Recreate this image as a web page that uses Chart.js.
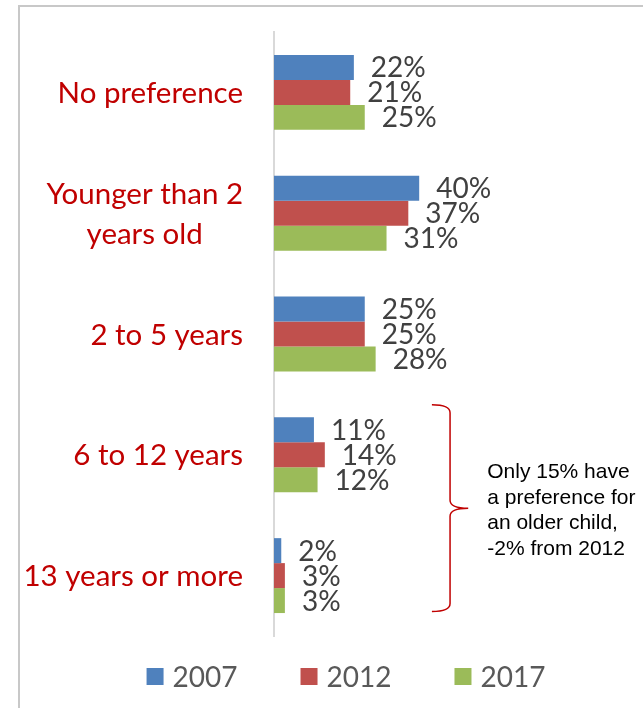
<!DOCTYPE html>
<html>
<head>
<meta charset="utf-8">
<script src="https://cdn.jsdelivr.net/npm/chart.js@4/dist/chart.umd.min.js"></script>
<style>
	body { margin: 0; background: #fff; }
	#wrap { width: 643px; height: 708px; }
</style>
</head>
<body>
<div id="wrap"><canvas id="prefChart" width="643" height="708"></canvas></div>
<script>
// data
var categories = ['No preference', ['Younger than 2', 'years old'], '2 to 5 years', '6 to 12 years', '13 years or more'];
var years = ['2007', '2012', '2017'];
var values2007 = [22, 40, 25, 11, 2];
var values2012 = [21, 37, 25, 14, 3];
var values2017 = [25, 31, 28, 12, 3];
var colors = ['#4F81BD', '#C0504D', '#9BBB59'];
var noteLines = ['Only 15% have', 'a preference for', 'an older child,', '-2% from 2012'];

var FONT = 'Lato, "Open Sans", sans-serif';

var extras = {
	id: 'extras',
	beforeDraw: function(chart) {
		var ctx = chart.ctx;
		ctx.save();
		ctx.strokeStyle = '#c8c8c8';
		ctx.lineWidth = 2;
		ctx.beginPath();
		ctx.moveTo(19, 708);
		ctx.lineTo(19, 6);
		ctx.lineTo(643, 6);
		ctx.stroke();
		ctx.restore();
	},
	afterDatasetsDraw: function(chart) {
		var ctx = chart.ctx;
		var xs = chart.scales.x, ys = chart.scales.y;
		ctx.save();

		// value labels next to each bar
		ctx.font = '28px ' + FONT;
		ctx.fillStyle = '#404040';
		ctx.textAlign = 'left';
		ctx.textBaseline = 'middle';
		chart.data.datasets.forEach(function(ds, i) {
			chart.getDatasetMeta(i).data.forEach(function(bar, j) {
				ctx.fillText(ds.data[j] + '%', bar.x + 17, bar.y + 1);
			});
		});

		// category labels (right aligned, lines centred in their block)
		ctx.font = '29.5px ' + FONT;
		ctx.fillStyle = '#C00000';
		ctx.textAlign = 'center';
		categories.forEach(function(cat, i) {
			var lines = Array.isArray(cat) ? cat : [cat];
			var w = Math.max.apply(null, lines.map(function(l) { return ctx.measureText(l).width; }));
			var cx = xs.left - 31 - w / 2;
			var y0 = ys.getPixelForValue(i) - (lines.length - 1) * 20;
			lines.forEach(function(l, k) {
				ctx.fillText(l, cx, y0 + k * 40 + 1);
			});
		});

		// legend
		ctx.font = '28px ' + FONT;
		ctx.textAlign = 'left';
		ctx.fillStyle = '#595959';
		var widths = years.map(function(y) { return 17 + 9 + ctx.measureText(y).width; });
		var total = widths.reduce(function(a, b) { return a + b; }, 0) + 63 * (years.length - 1);
		var lx = 346 - total / 2;
		var ly = 677;
		years.forEach(function(y, i) {
			ctx.fillStyle = colors[i];
			ctx.fillRect(lx, ly - 9, 17, 17);
			ctx.fillStyle = '#595959';
			ctx.fillText(y, lx + 26, ly + 1);
			lx += widths[i] + 63;
		});

		// bracket around the two older groups
		var top = ys.getPixelForValue(3) - 50;
		var bot = ys.getPixelForValue(4) + 36;
		var mid = (top + bot) / 2;
		var bx = xs.getPixelForValue(48.5);
		var hx = xs.getPixelForValue(43.5);
		var tx = xs.getPixelForValue(53.5);
		ctx.strokeStyle = '#C00000';
		ctx.lineWidth = 1.5;
		ctx.beginPath();
		ctx.moveTo(hx, top);
		ctx.quadraticCurveTo(bx, top, bx, top + 8);
		ctx.lineTo(bx, mid - 8);
		ctx.quadraticCurveTo(bx, mid, tx, mid);
		ctx.quadraticCurveTo(bx, mid, bx, mid + 8);
		ctx.lineTo(bx, bot - 8);
		ctx.quadraticCurveTo(bx, bot, hx, bot);
		ctx.stroke();

		// note text
		ctx.font = '21px "Liberation Sans", Arial, sans-serif';
		ctx.fillStyle = '#000';
		ctx.textBaseline = 'alphabetic';
		noteLines.forEach(function(l, k) {
			ctx.fillText(l, tx + 19, mid - 30 + k * 25.5);
		});

		ctx.restore();
	}
};

var ctx1 = document.getElementById('prefChart');
var barChart = new Chart(ctx1, {
	type: 'bar',
	data: {
		labels: categories,
		datasets: [{
			label: years[0],
			data: values2007,
			backgroundColor: colors[0]
		},
		{
			label: years[1],
			data: values2012,
			backgroundColor: colors[1]
		},
		{
			label: years[2],
			data: values2017,
			backgroundColor: colors[2]
		}]
	},
	options: {
		indexAxis: 'y',
		responsive: false,
		animation: false,
		layout: {
			padding: { top: 32, right: 6, bottom: 72, left: 0 }
		},
		datasets: {
			bar: {
				categoryPercentage: 0.62,
				barPercentage: 1
			}
		},
		plugins: {
			legend: { display: false },
			tooltip: { enabled: false }
		},
		scales: {
			x: {
				display: false,
				min: 0,
				max: 100
			},
			y: {
				grid: { display: false },
				ticks: { display: false },
				border: { display: true, color: '#d9d9d9', width: 2 },
				afterFit: function(scale) {
					scale.width = 274;
				}
			}
		}
	},
	plugins: [extras]
});
</script>
</body>
</html>
